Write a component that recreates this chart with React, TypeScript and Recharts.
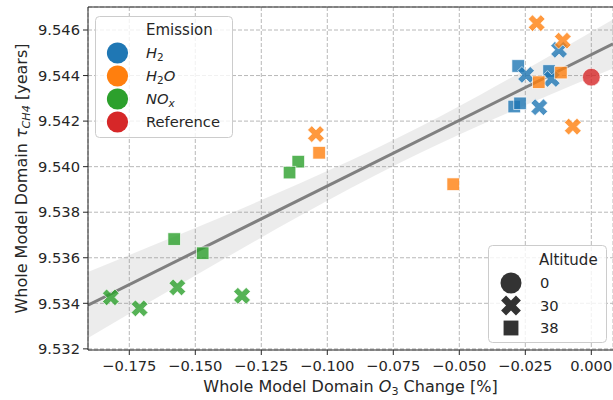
import React from "react";
import {
  ComposedChart,
  XAxis,
  YAxis,
  CartesianGrid,
  Scatter,
  Area,
  Line,
  ReferenceLine,
} from "recharts";

// axis ticks
const xTicks = [-0.175, -0.15, -0.125, -0.1, -0.075, -0.05, -0.025, 0];
const yTicks = [9.532, 9.534, 9.536, 9.538, 9.54, 9.542, 9.544, 9.546];
const xDomain = [-0.19064, 0.00822];
const yDomain = [9.53195, 9.54701];

// H2 runs
const h2X = [-0.0277, -0.0160, -0.0292, -0.0270, -0.0122, -0.0247, -0.0150, -0.0197];
const h2Y = [9.54442, 9.5442, 9.54264, 9.54278, 9.54513, 9.54403, 9.54385, 9.54261];
const h2Alt = [38, 38, 38, 38, 30, 30, 30, 30];

// H2O runs
const h2oX = [-0.1031, -0.0523, -0.0115, -0.0199, -0.1043, -0.0207, -0.0108, -0.0070];
const h2oY = [9.54061, 9.53923, 9.54413, 9.54371, 9.54143, 9.5463, 9.54553, 9.54176];
const h2oAlt = [38, 38, 38, 38, 30, 30, 30, 30];

// NOx runs
const noxX = [-0.1580, -0.1472, -0.1110, -0.1143, -0.1820, -0.1711, -0.1568, -0.1323];
const noxY = [9.53682, 9.5362, 9.54022, 9.53974, 9.53426, 9.53378, 9.5347, 9.53433];
const noxAlt = [38, 38, 38, 38, 30, 30, 30, 30];

// reference run
const refX = [0];
const refY = [9.54393];
const refAlt = [0];

// regression fit and its confidence band
const fitX = [-0.19064, 0.00822];
const fitY = [9.53392, 9.54539];
const bandX = [-0.19064, -0.16716, -0.14064, -0.11034, -0.07246, -0.04216, -0.01943, 0.00822];
const bandLow = [9.53248, 9.53407, 9.53585, 9.53784, 9.54017, 9.54182, 9.54297, 9.54431];
const bandHigh = [9.53537, 9.53649, 9.53776, 9.53927, 9.54131, 9.54315, 9.54462, 9.54646];

const COLORS = {
  h2: "#1f77b4",
  h2o: "#ff7f0e",
  nox: "#2ca02c",
  ref: "#d62728",
};

const FONT = "DejaVu Sans";
const TEXT = "#262626";

const toPoints = (xs: number[], ys: number[], alts: number[]) =>
  xs.map((x, i) => ({ x, y: ys[i], alt: alts[i] }));

const bandData = bandX.map((x, i) => ({ x, band: [bandLow[i], bandHigh[i]] }));
const fitData = fitX.map((x, i) => ({ x, fit: fitY[i] }));

// matplotlib-style filled "X" marker
const PLUS = [
  [-1, -3], [1, -3], [1, -1], [3, -1], [3, 1], [1, 1],
  [1, 3], [-1, 3], [-1, 1], [-3, 1], [-3, -1], [-1, -1],
];
function xPath(cx: number, cy: number, size: number) {
  return (
    PLUS.map(([a, b], i) => {
      const px = (a / 6) * size;
      const py = (b / 6) * size;
      const rx = (px - py) / Math.SQRT2;
      const ry = (px + py) / Math.SQRT2;
      return `${i ? "L" : "M"}${cx + rx},${cy + ry}`;
    }).join("") + "Z"
  );
}

function Glyph({
  cx,
  cy,
  alt,
  size,
  fill,
  opacity = 1,
  stroke = "none",
}: {
  cx: number;
  cy: number;
  alt: number;
  size: number;
  fill: string;
  opacity?: number;
  stroke?: string;
}) {
  const common = {
    fill,
    fillOpacity: opacity,
    stroke,
    strokeOpacity: opacity,
    strokeWidth: 0.8,
  };
  if (alt === 0) return <circle cx={cx} cy={cy} r={size / 2} {...common} />;
  if (alt === 30) return <path d={xPath(cx, cy, size)} {...common} />;
  const h = size / Math.SQRT2;
  return <rect x={cx - h / 2} y={cy - h / 2} width={h} height={h} {...common} />;
}

const shapeFor = (color: string) => (p: any) => {
  const alt = p.payload?.alt ?? p.alt;
  return (
    <Glyph cx={p.cx} cy={p.cy} alt={alt} size={17.7} fill={color} opacity={0.8} stroke="#ffffff" />
  );
};

const fmtX = (v: number) => (v < 0 ? "\u2212" : "") + Math.abs(v).toFixed(3);
const fmtY = (v: number) => v.toFixed(3);

function Legends() {
  const emission = [
    { color: COLORS.h2, label: "h2" },
    { color: COLORS.h2o, label: "h2o" },
    { color: COLORS.nox, label: "nox" },
    { color: COLORS.ref, label: "ref" },
  ];
  const rowsE = [53, 76, 99, 122];
  const sub = { fontSize: 10.5 };
  const labelFor = (k: string) => {
    if (k === "h2")
      return (
        <>
          <tspan fontStyle="italic">H</tspan>
          <tspan {...sub} dy={3}>2</tspan>
        </>
      );
    if (k === "h2o")
      return (
        <>
          <tspan fontStyle="italic">H</tspan>
          <tspan {...sub} dy={3}>2</tspan>
          <tspan fontStyle="italic" dy={-3}>O</tspan>
        </>
      );
    if (k === "nox")
      return (
        <>
          <tspan fontStyle="italic">NO</tspan>
          <tspan {...sub} fontStyle="italic" dy={3}>x</tspan>
        </>
      );
    return "Reference";
  };
  const alts = [
    { alt: 0, label: "0", y: 283 },
    { alt: 30, label: "30", y: 305.5 },
    { alt: 38, label: "38", y: 328 },
  ];
  return (
    <svg
      width={613}
      height={400}
      style={{ position: "absolute", left: 0, top: 0, pointerEvents: "none" }}
      fontFamily={FONT}
    >
      {/* Emission legend */}
      <rect x={95.5} y={16.5} width={137} height={121} rx={4} fill="#fff" fillOpacity={0.8} stroke="#cccccc" />
      <text x={146} y={34.5} fontSize={15} fill={TEXT}>Emission</text>
      {emission.map((e, i) => (
        <g key={e.label}>
          <circle cx={117.5} cy={rowsE[i]} r={10.6} fill={e.color} />
          <text x={146} y={rowsE[i] + 5.3} fontSize={14.7} fill={TEXT}>
            {labelFor(e.label)}
          </text>
        </g>
      ))}

      {/* Altitude legend */}
      <rect x={488.5} y={245.5} width={118} height={97} rx={4} fill="#fff" fillOpacity={0.8} stroke="#cccccc" />
      <text x={539} y={264.5} fontSize={15} fill={TEXT}>Altitude</text>
      {alts.map((a) => (
        <g key={a.label}>
          <Glyph cx={511} cy={a.y} alt={a.alt} size={21} fill="#333333" />
          <text x={540} y={a.y + 5.3} fontSize={14.7} fill={TEXT}>{a.label}</text>
        </g>
      ))}

      {/* axis labels */}
      <text x={350.5} y={392} fontSize={16} fill={TEXT} textAnchor="middle">
        Whole Model Domain <tspan fontStyle="italic">O</tspan>
        <tspan fontSize={11.2} dy={3}>3</tspan>
        <tspan dy={-3}> Change [%]</tspan>
      </text>
      <text
        x={27}
        y={178.5}
        fontSize={16}
        fill={TEXT}
        textAnchor="middle"
        transform="rotate(-90, 27, 178.5)"
      >
        Whole Model Domain <tspan fontStyle="italic">τ</tspan>
        <tspan fontSize={11.2} fontStyle="italic" dy={3}>CH4</tspan>
        <tspan dy={-3}> [years]</tspan>
      </text>
    </svg>
  );
}

export default function App() {
  return (
    <div
      style={{
        position: "absolute",
        left: 0,
        top: 0,
        width: 613,
        height: 400,
        background: "#fff",
        fontFamily: FONT,
      }}
    >
      <ComposedChart
        width={613}
        height={400}
        data={bandData}
        margin={{ top: 7, right: 0, bottom: 0, left: 0 }}
      >
        <CartesianGrid stroke="#b8b8b8" strokeDasharray="4 2" />
        <XAxis
          type="number"
          dataKey="x"
          domain={xDomain}
          ticks={xTicks}
          allowDataOverflow
          tickFormatter={fmtX}
          height={50}
          tickSize={5}
          tickMargin={6}
          axisLine={{ stroke: TEXT }}
          tickLine={{ stroke: TEXT }}
          tick={{ fill: TEXT, fontSize: 14.7, fontFamily: FONT }}
        />
        <YAxis
          type="number"
          domain={yDomain}
          ticks={yTicks}
          allowDataOverflow
          tickFormatter={fmtY}
          width={88}
          tickSize={5}
          tickMargin={3}
          axisLine={{ stroke: TEXT }}
          tickLine={{ stroke: TEXT }}
          tick={{ fill: TEXT, fontSize: 14.7, fontFamily: FONT }}
        />
        <ReferenceLine y={yDomain[1]} stroke={TEXT} strokeWidth={1} />
        <Area
          type="monotone"
          dataKey="band"
          stroke="none"
          fill="#808080"
          fillOpacity={0.15}
          isAnimationActive={false}
        />
        <Scatter name="H2" data={toPoints(h2X, h2Y, h2Alt)} dataKey="y" shape={shapeFor(COLORS.h2)} isAnimationActive={false} />
        <Scatter name="H2O" data={toPoints(h2oX, h2oY, h2oAlt)} dataKey="y" shape={shapeFor(COLORS.h2o)} isAnimationActive={false} />
        <Scatter name="NOx" data={toPoints(noxX, noxY, noxAlt)} dataKey="y" shape={shapeFor(COLORS.nox)} isAnimationActive={false} />
        <Scatter name="Reference" data={toPoints(refX, refY, refAlt)} dataKey="y" shape={shapeFor(COLORS.ref)} isAnimationActive={false} />
        <Line
          data={fitData}
          dataKey="fit"
          stroke="#808080"
          strokeWidth={3}
          dot={false}
          activeDot={false}
          isAnimationActive={false}
        />
      </ComposedChart>
      <Legends />
    </div>
  );
}
